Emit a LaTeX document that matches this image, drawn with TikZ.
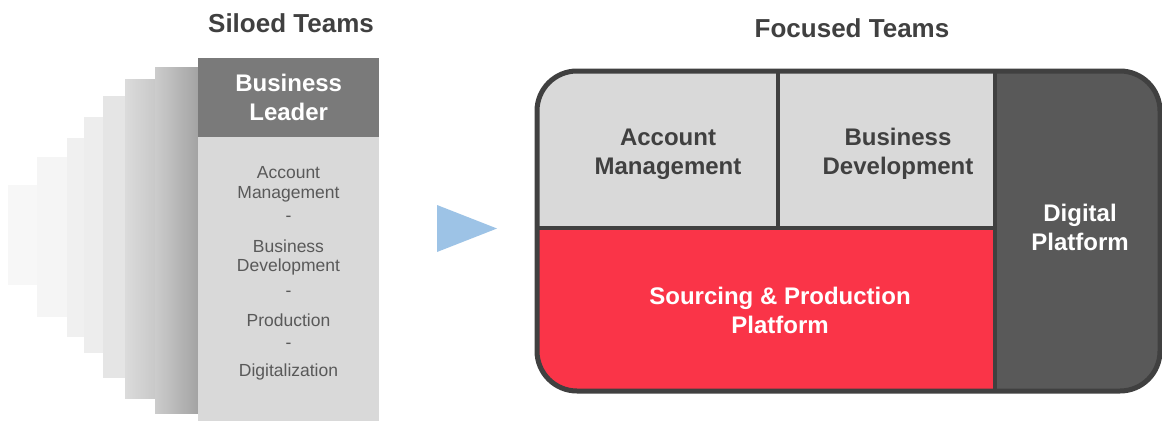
\documentclass[tikz,border=0pt]{standalone}
\usepackage{fontspec}
\setmainfont{Liberation Sans}
\definecolor{titlegray}{HTML}{404040}
\definecolor{headgray}{HTML}{7A7A7A}
\definecolor{cardgray}{HTML}{D9D9D9}
\definecolor{cardtext}{HTML}{595959}
\definecolor{framegray}{HTML}{404040}
\definecolor{darkpanel}{HTML}{595959}
\definecolor{redpanel}{HTML}{FA3448}
\definecolor{arrowblue}{HTML}{9DC3E6}
\tikzset{
  title/.style={font=\fontsize{26}{30}\selectfont\bfseries, text=titlegray},
  cellhead/.style={font=\fontsize{24}{29}\selectfont\bfseries, align=center},
  role/.style={font=\fontsize{17.5}{21}\selectfont, text=cardtext, inner sep=0},
  layer/.style={draw=none},
}
\begin{document}
\begin{tikzpicture}[x=1pt,y=-1pt]
\useasboundingbox[fill=white] (0,0) rectangle (1162,421);

% titles
\node[title] (siloed) at (291,23) {Siloed Teams};
\node[title] (focused) at (852,28) {Focused Teams};

% stacked layers behind the leader card, lightest at the back
\fill[layer, fill=black!3] (8,185) rectangle (40,285);
\fill[layer, fill=black!4] (37,157) rectangle (70,317);
\fill[layer, fill=black!6] (67,138) rectangle (87,337);
\fill[layer, fill=black!7] (84,117) rectangle (106,353);
\fill[layer, fill=black!10] (103,96) rectangle (128,378);
\shade[layer, left color=black!14, right color=black!22] (125,79) rectangle (158,398);
\shade[layer, left color=black!20, right color=black!36] (155,67) rectangle (198,413);

% leader card
\fill[cardgray] (198,137) rectangle (379,421);
\node[fill=headgray, minimum width=181, minimum height=79, inner sep=0,
      anchor=north west, cellhead, text=white] (leader) at (198,58)
      {Business\\Leader};

% roles listed on the card
\node[role] (r1) at (288.5,173) {Account};
\node[role] (r2) at (288.5,194) {Management};
\node[role] (s1) at (288.5,219) {-};
\node[role] (r3) at (288.5,246) {Business};
\node[role] (r4) at (288.5,267) {Development};
\node[role] (s2) at (288.5,294) {-};
\node[role] (r5) at (288.5,320) {Production};
\node[role] (s3) at (288.5,346) {-};
\node[role] (r6) at (288.5,372) {Digitalization};

% arrow
\fill[arrowblue] (437,205) -- (497,228.5) -- (437,252) -- cycle;
\coordinate (arrowtip) at (497,228.5);

% focused teams panel
\begin{scope}
  \clip[rounded corners=40] (537,71) rectangle (1160,391);
  \fill[cardgray] (537,71) rectangle (995,228);
  \fill[redpanel] (537,228) rectangle (995,391);
  \fill[darkpanel] (995,71) rectangle (1160,391);
  \draw[framegray, line width=4] (537,228) -- (995,228);
  \draw[framegray, line width=4] (778,71) -- (778,228);
  \draw[framegray, line width=4] (995,71) -- (995,391);
\end{scope}
\draw[framegray, line width=5, rounded corners=40] (537,71) rectangle (1160,391);

\node[cellhead, text=titlegray] (acct) at (668,154) {Account\\Management};
\node[cellhead, text=titlegray] (bizdev) at (898,154) {Business\\Development};
\node[cellhead, text=white] (digital) at (1080,227) {Digital\\Platform};
\node[cellhead, text=white] (sourcing) at (780,310) {Sourcing \& Production\\Platform};
\end{tikzpicture}
\end{document}
